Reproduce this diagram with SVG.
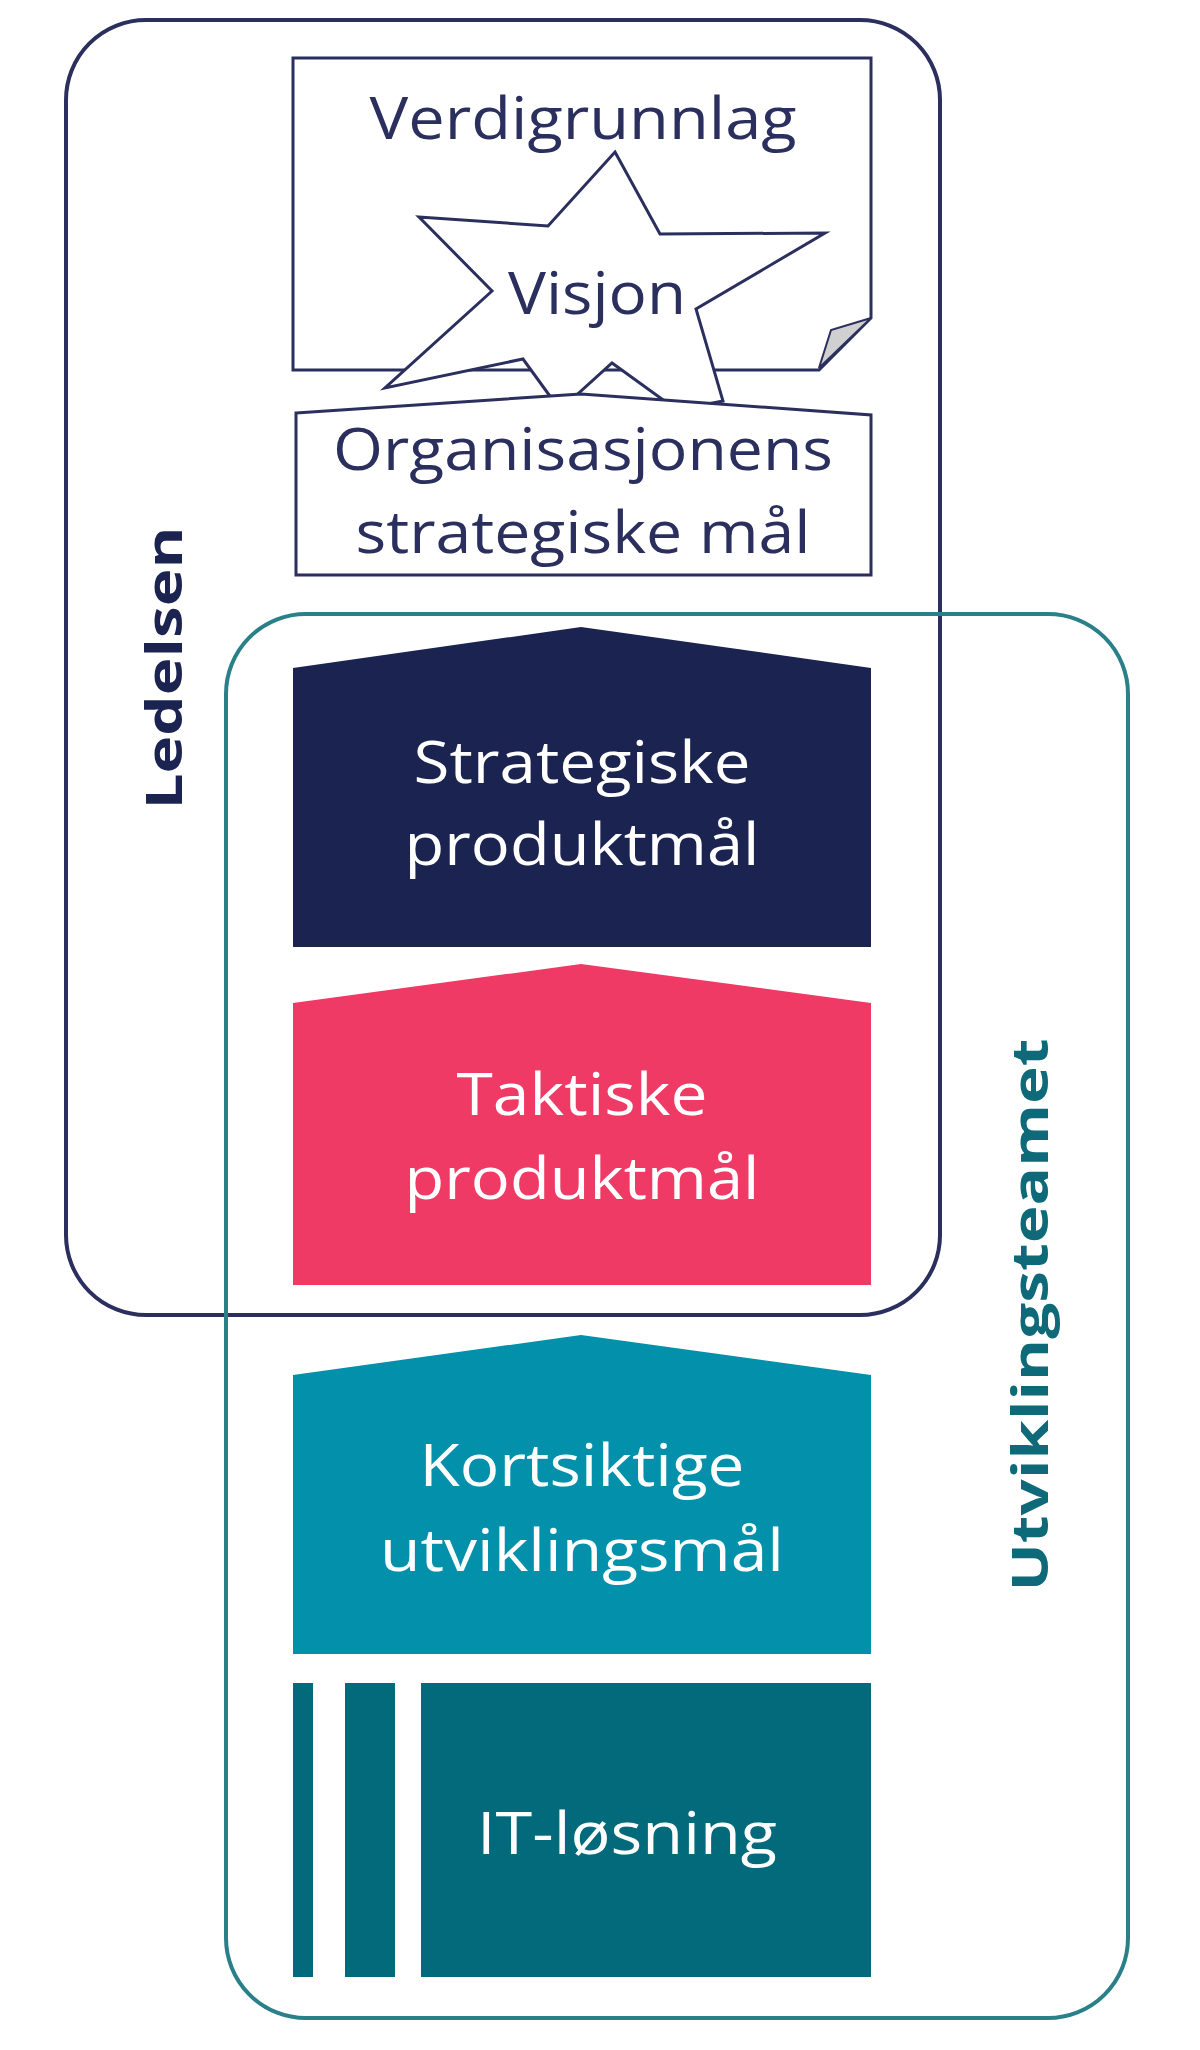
<svg xmlns="http://www.w3.org/2000/svg" width="1200" height="2050" viewBox="0 0 1200 2050">
<style>
.dk{font-family:"Open Sans","DejaVu Sans",sans-serif;font-size:58px;fill:#2b2f5e;text-anchor:middle}
.wt{font-family:"Open Sans","DejaVu Sans",sans-serif;font-size:58px;fill:#ffffff;text-anchor:middle}
.lb{font-family:"Open Sans","DejaVu Sans",sans-serif;font-size:50px;font-weight:bold;text-anchor:middle}
.ol{fill:#fff;stroke:#2b2f5e;stroke-width:3}
</style>
<rect width="1200" height="2050" fill="#fff"/>
<g id="ledelsen">
<rect x="66" y="20" width="874" height="1295" rx="80" fill="none" stroke="#2b2f5e" stroke-width="4"/>
<text class="lb" fill="#1b2350" transform="translate(182,668) rotate(-90)" textLength="283" lengthAdjust="spacingAndGlyphs">Ledelsen</text>
</g>
<g id="utviklingsteamet">
<rect x="226" y="614" width="902" height="1404" rx="80" fill="none" stroke="#2a8088" stroke-width="4"/>
<text class="lb" fill="#0e6a78" transform="translate(1048,1315) rotate(-90)" textLength="553" lengthAdjust="spacingAndGlyphs">Utviklingsteamet</text>
</g>
<g id="verdigrunnlag">
<polygon class="ol" points="293,58 871,58 871,318 819,370 293,370"/>
<polygon points="871,318 831,330 819,368" fill="#d0d0d0" stroke="#2b2f5e" stroke-width="2"/>
<text class="dk" x="583" y="139" textLength="427" lengthAdjust="spacingAndGlyphs">Verdigrunnlag</text>
</g>
<g id="visjon">
<polygon class="ol" points="615,152 660,234 825,233 696,309 723,401 677,410 612,363 560,410 523,359 385,388 492,291 419,217 548,226"/>
<text class="dk" x="597" y="314" textLength="178" lengthAdjust="spacingAndGlyphs">Visjon</text>
</g>
<g id="org">
<polygon class="ol" points="296,413 581,394 871,415 871,575 296,575"/>
<text class="dk" x="583" y="470" textLength="500" lengthAdjust="spacingAndGlyphs">Organisasjonens</text>
<text class="dk" x="583" y="553" textLength="455" lengthAdjust="spacingAndGlyphs">strategiske mål</text>
</g>
<g id="strategiske">
<polygon points="293,668 581,627 871,668 871,947 293,947" fill="#1b2350"/>
<text class="wt" x="582" y="783" textLength="337" lengthAdjust="spacingAndGlyphs">Strategiske</text>
<text class="wt" x="582" y="865" textLength="355" lengthAdjust="spacingAndGlyphs">produktmål</text>
</g>
<g id="taktiske">
<polygon points="293,1003 581,964 871,1003 871,1285 293,1285" fill="#ee3a64"/>
<text class="wt" x="582" y="1115" textLength="251" lengthAdjust="spacingAndGlyphs">Taktiske</text>
<text class="wt" x="582" y="1199" textLength="355" lengthAdjust="spacingAndGlyphs">produktmål</text>
</g>
<g id="kortsiktige">
<polygon points="293,1375 581,1335 871,1375 871,1654 293,1654" fill="#0390ab"/>
<text class="wt" x="582" y="1486" textLength="325" lengthAdjust="spacingAndGlyphs">Kortsiktige</text>
<text class="wt" x="582" y="1571" textLength="404" lengthAdjust="spacingAndGlyphs">utviklingsmål</text>
</g>
<g id="it">
<rect x="293" y="1683" width="20" height="294" fill="#026a7b"/>
<rect x="345" y="1683" width="50" height="294" fill="#026a7b"/>
<rect x="421" y="1683" width="450" height="294" fill="#026a7b"/>
<text class="wt" x="627" y="1854" textLength="300" lengthAdjust="spacingAndGlyphs">IT-løsning</text>
</g>
<g id="connectors"/>
</svg>
